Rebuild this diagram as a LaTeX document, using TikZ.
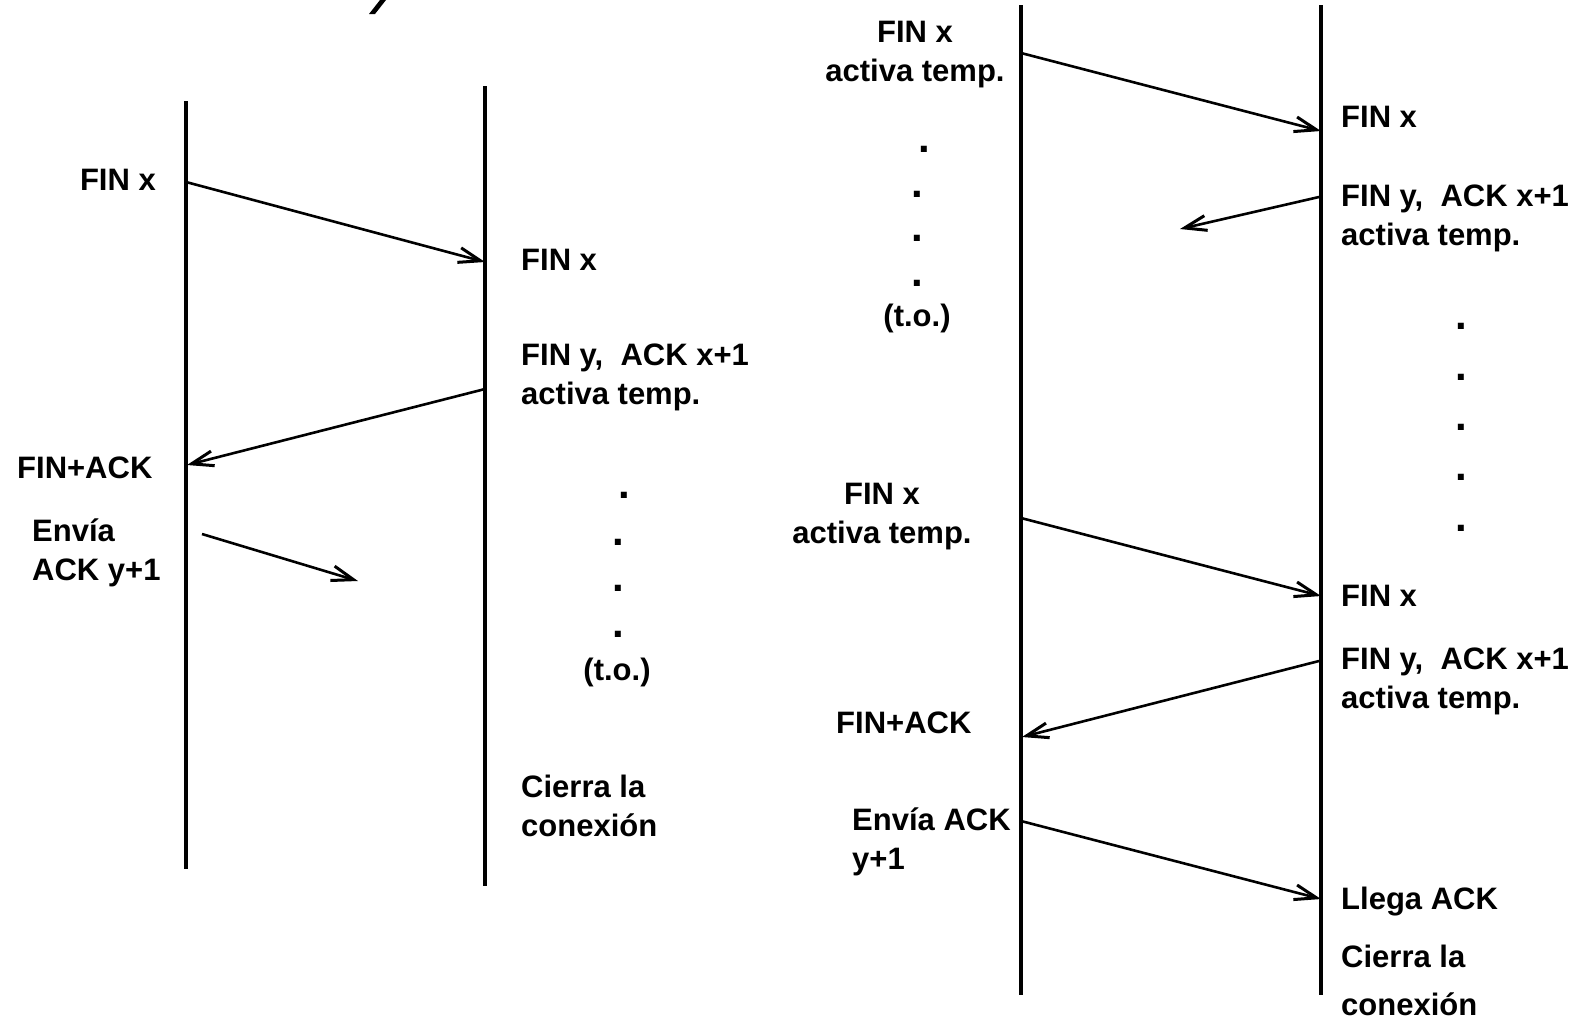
\documentclass[tikz,border=0pt]{standalone}
\usepackage{fontspec}
\setmainfont{Liberation Sans}
\usetikzlibrary{arrows.meta}
\begin{document}
\begin{tikzpicture}[x=1pt,y=-1pt,
  lifeline/.style={line width=3.2pt},
  msg/.style={line width=2.6pt,-{Straight Barb[length=22pt,width=15pt,line width=3pt]}},
  lbl/.style={font=\fontsize{31}{39}\selectfont\bfseries, inner sep=0pt},
  % multi-line labels are placed by the baseline of their last line
  lblL/.style={lbl, align=left, anchor=base west},
  lblR/.style={lbl, align=right, anchor=base east},
  lblC/.style={lbl, align=center, anchor=base},
  dotmark/.style={font=\fontsize{42}{42}\selectfont\bfseries, inner sep=0pt, anchor=base}]
\useasboundingbox (0,0) rectangle (1579,1021);
\fill[white] (0,0) rectangle (1579,1021);

% remnant of a heading cut off at the top edge
\fill (369,14) -- (375,14) -- (386,0) -- (380,0) -- cycle;

% ---------------- first exchange ----------------
\coordinate (l1top) at (186,101);  \coordinate (l1bot) at (186,869);
\coordinate (l2top) at (485,86);   \coordinate (l2bot) at (485,886);
\draw[lifeline] (l1top) -- (l1bot);
\draw[lifeline] (l2top) -- (l2bot);

\coordinate (a1s) at (186,182); \coordinate (a1e) at (485,262);
\coordinate (a2s) at (485,389); \coordinate (a2e) at (187,465);
\coordinate (a3s) at (202,534); \coordinate (a3e) at (358,581);
\draw[msg] (a1s) -- (a1e);
\draw[msg] (a2s) -- (a2e);
\draw[msg] (a3s) -- (a3e);

\node[lblR] (finxA) at (156,190) {FIN x};
\node[lblL] (finackA) at (17,478) {FIN+ACK};
\node[lblL] (enviaA) at (32,580) {Env\'ia\\ACK y+1};
\node[lblL] (finxB) at (521,270) {FIN x};
\node[lblL] (finyB) at (521,404) {FIN y,\ \ ACK x+1\\activa temp.};
\node[dotmark] (dB1) at (624,498) {.};
\node[dotmark] (dB2) at (618,545) {.};
\node[dotmark] (dB3) at (618,591) {.};
\node[dotmark] (dB4) at (618,637) {.};
\node[lblC] (toB) at (617,680) {(t.o.)};
\node[lblL] (cierraB) at (521,836) {Cierra la\\conexi\'on};

% ---------------- second exchange ----------------
\coordinate (l3top) at (1021,5);   \coordinate (l3bot) at (1021,995);
\coordinate (l4top) at (1321,5);   \coordinate (l4bot) at (1321,995);
\draw[lifeline] (l3top) -- (l3bot);
\draw[lifeline] (l4top) -- (l4bot);

\coordinate (b1s) at (1021,53);  \coordinate (b1e) at (1321,131);
\coordinate (b2s) at (1319,197); \coordinate (b2e) at (1180,229);
\coordinate (b3s) at (1021,518); \coordinate (b3e) at (1321,596);
\coordinate (b4s) at (1319,661); \coordinate (b4e) at (1022,737);
\coordinate (b5s) at (1021,821); \coordinate (b5e) at (1321,899);
\draw[msg] (b1s) -- (b1e);
\draw[msg] (b2s) -- (b2e);
\draw[msg] (b3s) -- (b3e);
\draw[msg] (b4s) -- (b4e);
\draw[msg] (b5s) -- (b5e);

\node[lblC] (finxC1) at (915,81) {FIN x\\activa temp.};
\node[dotmark] (dC1) at (924,152) {.};
\node[dotmark] (dC2) at (917,197) {.};
\node[dotmark] (dC3) at (917,241) {.};
\node[dotmark] (dC4) at (917,286) {.};
\node[lblC] (toC) at (917,326) {(t.o.)};
\node[lblC] (finxC2) at (882,543) {FIN x\\activa temp.};
\node[lblL] (finackC) at (836,733) {FIN+ACK};
\node[lblL] (enviaC) at (852,869) {Env\'ia ACK\\y+1};

\node[lblL] (finxD1) at (1341,127) {FIN x};
\node[lblL] (finyD1) at (1341,245) {FIN y,\ \ ACK x+1\\activa temp.};
\node[dotmark] (dD1) at (1461,329) {.};
\node[dotmark] (dD2) at (1461,380) {.};
\node[dotmark] (dD3) at (1461,430) {.};
\node[dotmark] (dD4) at (1461,480) {.};
\node[dotmark] (dD5) at (1461,531) {.};
\node[lblL] (finxD2) at (1341,606) {FIN x};
\node[lblL] (finyD2) at (1341,708) {FIN y,\ \ ACK x+1\\activa temp.};
\node[lblL] (llegaD) at (1341,909) {Llega ACK};
\node[lblL, font=\fontsize{31}{48}\selectfont\bfseries] (cierraD) at (1341,1015) {Cierra la\\conexi\'on};
\end{tikzpicture}
\end{document}
